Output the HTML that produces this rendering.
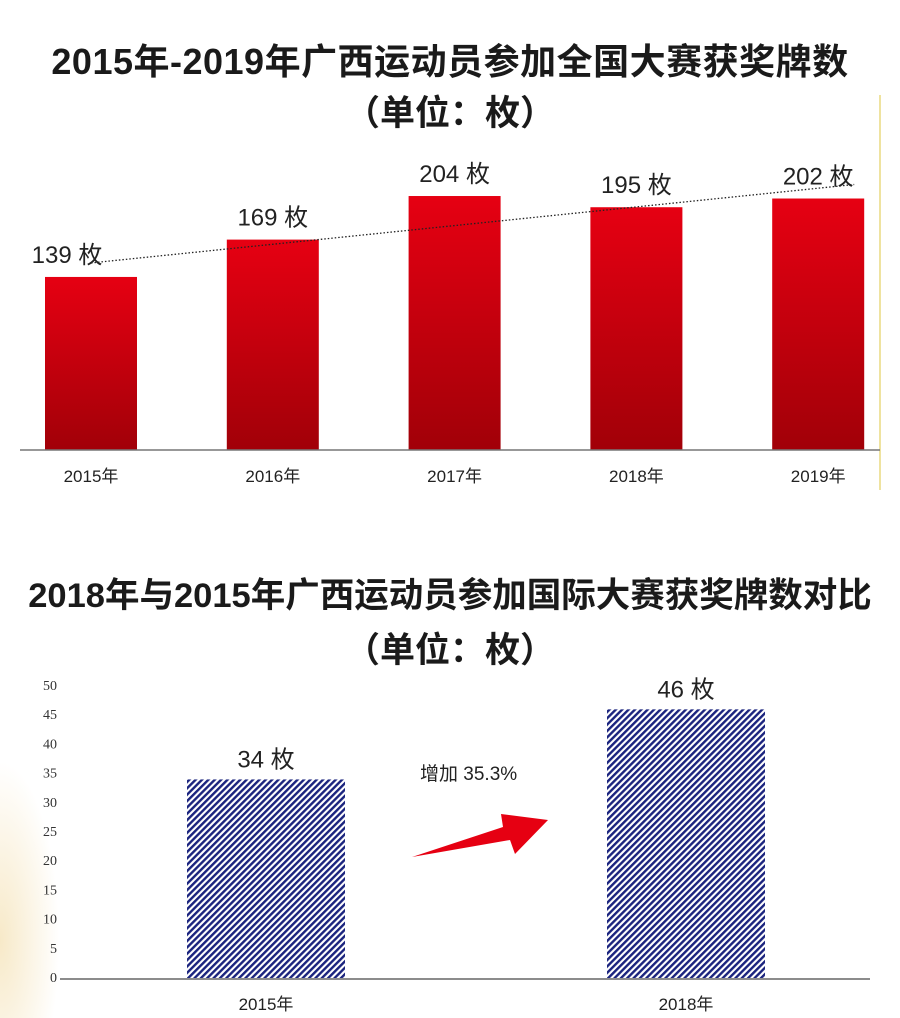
<!DOCTYPE html>
<html><head><meta charset="utf-8"><style>
body{margin:0;background:#fff;width:900px;height:1018px;overflow:hidden;position:relative;font-family:"Liberation Sans","Noto Sans CJK SC",sans-serif}
.t{position:absolute;left:0;width:900px;text-align:center;color:#1a1a1a;font-weight:bold;font-size:35px;white-space:nowrap}
</style></head><body>
<div style="position:absolute;left:0;top:760px;width:60px;height:258px;background:radial-gradient(ellipse at 0% 70%,#f7e9c8 0%,rgba(255,255,255,0) 70%)"></div>
<div class="t" style="top:33px;font-size:36px;letter-spacing:0.5px">2015年-2019年广西运动员参加全国大赛获奖牌数</div>
<div class="t" style="top:85px">（单位：枚）</div>
<div class="t" style="top:567px;font-size:34.5px">2018年与2015年广西运动员参加国际大赛获奖牌数对比</div>
<div class="t" style="top:622px">（单位：枚）</div>
<svg id="s" width="900" height="1018" style="position:absolute;left:0;top:0">
<defs>
<linearGradient id="rg" x1="0" y1="0" x2="0" y2="1"><stop offset="0" stop-color="#e60012"/><stop offset="1" stop-color="#a10008"/></linearGradient>
<pattern id="hatch" width="4.5" height="4.5" patternUnits="userSpaceOnUse" patternTransform="rotate(45)"><rect width="4.5" height="4.5" fill="#fff"/><rect width="2.4" height="4.5" fill="#1a237e"/></pattern>
</defs>
</svg>
<script>
const cats1=["2015年","2016年","2017年","2018年","2019年"];
const vals1=[139,169,204,195,202];
const cats2=["2015年","2018年"];
const vals2=[34,46];
const ticks2=[0,5,10,15,20,25,30,35,40,45,50];
const NS="http://www.w3.org/2000/svg",s=document.getElementById('s');
function mk(t,a,txt){const e=document.createElementNS(NS,t);for(const k in a)e.setAttribute(k,a[k]);if(txt!==undefined)e.textContent=txt;s.appendChild(e);return e;}
const b1=450,k1=1.245;
const y1=v=>b1-v*k1, x1=i=>45+i*181.8;
let l=mk('line',{x1:880,y1:95,x2:880,y2:490,stroke:'#efe3a0','stroke-width':2});

vals1.forEach((v,i)=>{
 let r=mk('rect',{x:x1(i),y:y1(v),width:92,height:v*k1,fill:'url(#rg)'});
 
 let t=mk('text',{x:x1(i)+(i===0?22:46),y:y1(v)-14,'text-anchor':'middle','font-size':24,fill:'#222'},v+' 枚');
 
 let c=mk('text',{x:x1(i)+46,y:482,'text-anchor':'middle','font-size':17,fill:'#222'},cats1[i]);
 
});
let ax=mk('line',{x1:20,y1:b1,x2:880,y2:b1,stroke:'#777','stroke-width':1.5});

let tr=mk('line',{x1:x1(0)+46,y1:y1(vals1[0])-14,x2:x1(4)+82,y2:y1(vals1[4])-14,stroke:'#222','stroke-width':1.3,'stroke-dasharray':'1.5,2'});

const b2=978,k2=5.84;
const y2=v=>b2-v*k2, x2=i=>187+i*420;
ticks2.forEach(v=>{let t=mk('text',{x:57,y:y2(v)+4,'text-anchor':'end','font-size':14,fill:'#333','font-family':'Liberation Serif,serif'},v);
 });
vals2.forEach((v,i)=>{
 let r=mk('rect',{x:x2(i),y:y2(v),width:158,height:v*k2,fill:'url(#hatch)'});
 
 let t=mk('text',{x:x2(i)+79,y:y2(v)-12,'text-anchor':'middle','font-size':24,fill:'#222'},v+' 枚');
 
 let c=mk('text',{x:x2(i)+79,y:1010,'text-anchor':'middle','font-size':17,fill:'#222'},cats2[i]);
 
});
let ax2=mk('line',{x1:60,y1:b2+1,x2:870,y2:b2+1,stroke:'#666','stroke-width':1.5});

let inc=mk('text',{x:420,y:780,'font-size':19,fill:'#222'},'增加 35.3%');

let ar=mk('polygon',{points:'412,857 503,827 501,814 548,820 515,854 510,840',fill:'#e60012'});

</script>
</body></html>
